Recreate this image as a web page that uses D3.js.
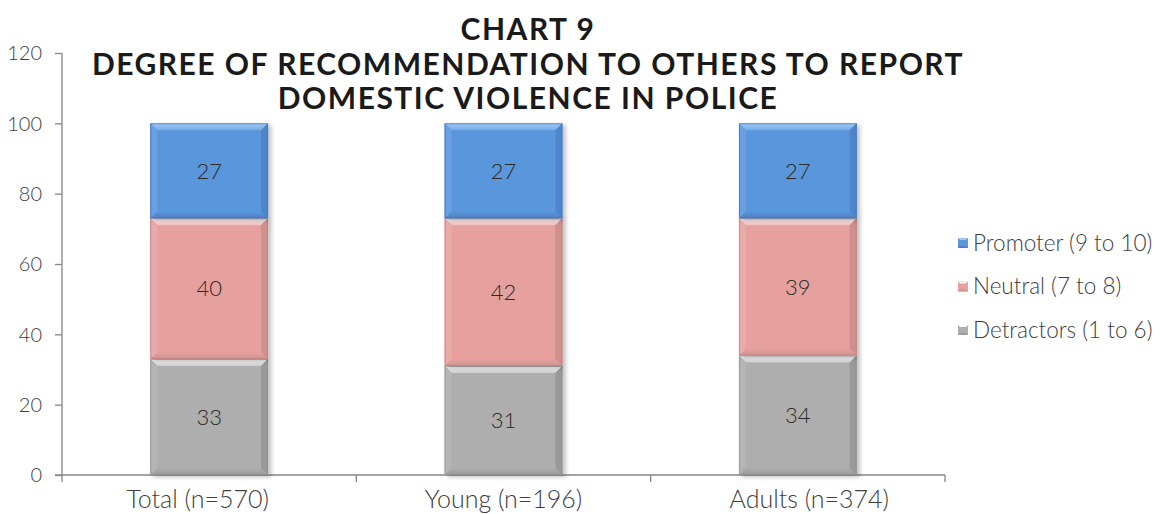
<!DOCTYPE html>
<html>
<head>
<meta charset="utf-8">
<script src="https://cdn.jsdelivr.net/npm/d3@7"></script>
<style>
  html, body { margin: 0; padding: 0; background: #ffffff; }
  svg { display: block; font-family: "Lato", "Open Sans", sans-serif; }
  .light { font-weight: 300; }
</style>
</head>
<body>
<svg id="chart" width="1162" height="514"></svg>
<script>
// Survey groups and the share (%) of answers in each recommendation band
const categories = ["Total (n=570)", "Young (n=196)", "Adults (n=374)"];
const detractors = [33, 31, 34];
const neutral = [40, 42, 39];
const promoters = [27, 27, 27];
const seriesNames = ["Detractors (1 to 6)", "Neutral (7 to 8)", "Promoter (9 to 10)"];
const yTicks = [0, 20, 40, 60, 80, 100, 120];
const titleLines = ["CHART 9", "DEGREE OF RECOMMENDATION TO OTHERS TO REPORT", "DOMESTIC VIOLENCE IN POLICE"];

// Colour sets for the bevelled segments: face, top, bottom, left, right
const palette = [
  { face: "#AEAEAE", top0: "#FFFFFF", top1: "#CDCDCD", bottom: "#9A9A9A", left: "#B5B5B5", right: "#999999", edge: "#8A8A8A" },
  { face: "#E6A19F", top0: "#FFF6F6", top1: "#F1C0BF", bottom: "#D09391", left: "#E9ABA9", right: "#CF908E", edge: "#B77876" },
  { face: "#5A96DC", top0: "#A0C8F5", top1: "#75AAE8", bottom: "#4F80C0", left: "#67A0E2", right: "#4F86CA", edge: "#3F6DAA" }
];

const svg = d3.select("#chart");
const defs = svg.append("defs");

palette.forEach((p, i) => {
  const g = defs.append("linearGradient").attr("id", "top" + i)
    .attr("x1", 0).attr("y1", 0).attr("x2", 0).attr("y2", 1);
  g.append("stop").attr("offset", "0%").attr("stop-color", p.top0);
  g.append("stop").attr("offset", "100%").attr("stop-color", p.top1);
  const b = defs.append("linearGradient").attr("id", "bot" + i)
    .attr("x1", 0).attr("y1", 0).attr("x2", 0).attr("y2", 1);
  b.append("stop").attr("offset", "0%").attr("stop-color", p.face);
  b.append("stop").attr("offset", "100%").attr("stop-color", p.bottom);
});

const shadow = defs.append("filter").attr("id", "shadow")
  .attr("x", "-10%").attr("y", "-10%").attr("width", "130%").attr("height", "130%");
shadow.append("feDropShadow").attr("dx", 3).attr("dy", 2).attr("stdDeviation", 2.2)
  .attr("flood-color", "#000").attr("flood-opacity", 0.25);

const plot = { left: 62, right: 945, top: 53, bottom: 475 };

const x = d3.scaleBand().domain(categories)
  .range([plot.left, plot.right]).paddingInner(0.6).paddingOuter(0.3);
const y = d3.scaleLinear().domain([0, 120]).range([plot.bottom, plot.top]);

// Stack the three series per group
const rows = categories.map((c, i) => ({
  cat: c, d: detractors[i], n: neutral[i], p: promoters[i]
}));
const stacked = d3.stack().keys(["d", "n", "p"])(rows);

// Axes
const axisColor = "#868686";
const textColor = "#404040";

const yAxis = svg.append("g").attr("transform", `translate(${plot.left},0)`)
  .call(d3.axisLeft(y).tickValues(yTicks).tickSize(7).tickPadding(13).tickFormat(d3.format("d")));
yAxis.select(".domain").attr("stroke", axisColor).attr("stroke-width", 1.3)
  .attr("d", `M0,${plot.top}V${plot.bottom + 7}`);
yAxis.selectAll(".tick line").attr("stroke", axisColor).attr("stroke-width", 1.3);
yAxis.selectAll(".tick text").attr("fill", textColor).attr("class", "light")
  .style("font-size", "20px").style("font-family", "Lato, sans-serif").attr("dy", "0.34em");

const xBoundaries = categories.map(c => x(c) + x.bandwidth() / 2 + x.step() / 2);
const xAxis = svg.append("g");
xAxis.append("line").attr("x1", plot.left - 7).attr("x2", plot.right)
  .attr("y1", plot.bottom).attr("y2", plot.bottom)
  .attr("stroke", axisColor).attr("stroke-width", 1.3);
xAxis.selectAll("line.tk").data(xBoundaries).join("line").attr("class", "tk")
  .attr("x1", d => d).attr("x2", d => d).attr("y1", plot.bottom).attr("y2", plot.bottom + 7)
  .attr("stroke", axisColor).attr("stroke-width", 1.3);
xAxis.selectAll("text").data(categories).join("text")
  .attr("class", "light")
  .attr("x", (d, i) => x(d) + x.bandwidth() / 2 + (i - 1) * 11.5)
  .attr("y", 508)
  .attr("text-anchor", "middle")
  .attr("fill", textColor)
  .style("font-size", "25px")
  .text(d => d);

// Bevelled bar segments
const bevel = 7;
const layer = svg.append("g");
stacked.forEach((series, si) => {
  const p = palette[si];
  series.forEach(seg => {
    const x0 = x(seg.data.cat), w = x.bandwidth();
    const yTop = y(seg[1]), yBot = y(seg[0]);
    const h = yBot - yTop;
    const b = Math.min(bevel, h / 2);
    const g = layer.append("g").attr("filter", "url(#shadow)");
    g.append("rect").attr("x", x0).attr("y", yTop).attr("width", w).attr("height", h).attr("fill", p.face);
    const poly = (pts, fill) => g.append("polygon")
      .attr("points", pts.map(q => q.join(",")).join(" ")).attr("fill", fill);
    poly([[x0, yTop], [x0 + w, yTop], [x0 + w - b, yTop + b], [x0 + b, yTop + b]], `url(#top${si})`);
    poly([[x0, yBot], [x0 + w, yBot], [x0 + w - b, yBot - b], [x0 + b, yBot - b]], `url(#bot${si})`);
    poly([[x0, yTop], [x0 + b, yTop + b], [x0 + b, yBot - b], [x0, yBot]], p.left);
    poly([[x0 + w, yTop], [x0 + w - b, yTop + b], [x0 + w - b, yBot - b], [x0 + w, yBot]], p.right);
    g.append("rect").attr("x", x0 + 0.5).attr("y", yTop + 0.5).attr("width", w - 1).attr("height", h - 1)
      .attr("fill", "none").attr("stroke", p.edge).attr("stroke-width", 1).attr("stroke-opacity", 0.6);
  });
});

// Value labels centred in each segment
stacked.forEach(series => {
  series.forEach(seg => {
    const v = seg[1] - seg[0];
    layer.append("text")
      .attr("class", "light")
      .attr("x", x(seg.data.cat) + x.bandwidth() / 2)
      .attr("y", (y(seg[0]) + y(seg[1])) / 2)
      .attr("dy", "0.35em")
      .attr("text-anchor", "middle")
      .attr("fill", "#2a2a2a")
      .style("font-size", "22px")
      .text(v);
  });
});

// Title
svg.append("g").selectAll("text").data(titleLines).join("text")
  .attr("x", 528)
  .attr("y", (d, i) => 40 + i * 34.5)
  .attr("text-anchor", "middle")
  .attr("fill", "#1a1a1a")
  .style("font-size", "30px")
  .style("font-weight", "bold")
  .style("letter-spacing", "1.5px")
  .text(d => d);

// Legend, promoter on top
const legendOrder = [2, 1, 0];
const legend = svg.append("g");
legendOrder.forEach((si, k) => {
  const cy = 243 + k * 43.5;
  const p = palette[si];
  const s = 10, lx = 958, ly = cy - 5;
  const lg = legend.append("g");
  lg.append("rect").attr("x", lx).attr("y", ly).attr("width", s).attr("height", s).attr("fill", p.face);
  lg.append("polygon").attr("points", `${lx},${ly} ${lx + s},${ly} ${lx + s / 2},${ly + s / 2}`).attr("fill", p.top0);
  lg.append("polygon").attr("points", `${lx},${ly + s} ${lx + s},${ly + s} ${lx + s / 2},${ly + s / 2}`).attr("fill", p.bottom);
  lg.append("rect").attr("x", lx + 2).attr("y", ly + 2).attr("width", s - 4).attr("height", s - 4).attr("fill", p.face);
  lg.append("text").attr("class", "light").attr("x", 973).attr("y", cy).attr("dy", "0.35em")
    .attr("fill", textColor).style("font-size", "22.5px").text(seriesNames[si]);
});
</script>
</body>
</html>
